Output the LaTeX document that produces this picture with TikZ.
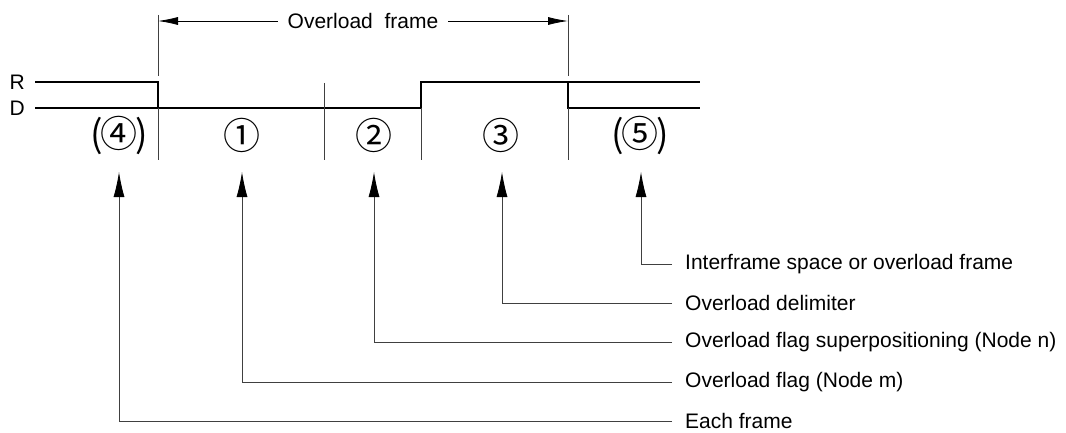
\documentclass[tikz,border=0pt]{standalone}
\usepackage{fontspec}
\setmainfont{Liberation Sans}
\newfontfamily\symfont{Noto Sans CJK SC}
\usetikzlibrary{arrows.meta}
\begin{document}
\begin{tikzpicture}[x=1pt,y=-1pt,
  sig/.style={line width=1.6pt,line cap=rect},
  thin/.style={line width=0.8pt,black!75},
  arr/.style={line width=0.8pt,black!75,-{Latex[length=25pt,width=11pt,black]}},
  dimarr/.style={line width=0.8pt,black,-{Latex[length=20pt,width=8pt]}},
  lbl/.style={anchor=west,inner sep=0pt,font=\fontsize{21}{25}\selectfont},
  num/.style={inner sep=0pt,font=\symfont\fontsize{37}{40}\selectfont}]
\useasboundingbox (0,0) rectangle (1066,433);
% signal levels
\node[anchor=east,inner sep=0pt,font=\fontsize{21}{25}\selectfont] (R) at (25,82) {R};
\node[anchor=east,inner sep=0pt,font=\fontsize{21}{25}\selectfont] (D) at (25,108) {D};
\draw[sig] (36,82) -- (158,82) -- (158,108) -- (421,108) -- (421,82) -- (568,82) -- (568,108) -- (699,108);
\draw[sig] (36,108) -- (158,108);
\draw[sig] (568,82) -- (699,82);
% separators
\draw[thin] (158,108) -- (158,160);
\draw[thin] (324,83) -- (324,160);
\draw[thin] (421,108) -- (421,160);
\draw[thin] (568,108) -- (568,160);
% dimension
\draw[thin] (158,15) -- (158,76);
\draw[thin] (568,15) -- (568,76);
\coordinate (dL) at (158,21);
\coordinate (dR) at (568,21);
\node[inner sep=0pt,inner xsep=10pt,font=\fontsize{21}{25}\selectfont] (of) at (363,21) {Overload\ \ frame};
\draw[dimarr] (of.west) -- (dL);
\draw[dimarr] (of.east) -- (dR);
% segment numbers
\node[num] (n4) at (119,135) {(\kern-2.5pt④\kern-2.5pt)};
\node[num] (n1) at (242,135) {①};
\node[num] (n2) at (374,135) {②};
\node[num] (n3) at (501,135) {③};
\node[num] (n5) at (640,135) {(\kern-2.5pt⑤\kern-2.5pt)};
% arrow tips
\coordinate (t4) at (119,172);
\coordinate (t1) at (242,172);
\coordinate (t2) at (374,172);
\coordinate (t3) at (502,172);
\coordinate (t5) at (641,172);
% labels
\node[lbl] (l5) at (685,264) {Interframe space or overload frame};
\node[lbl] (l3) at (685,303) {Overload delimiter};
\node[lbl] (l2) at (685,342) {Overload flag superpositioning (Node n)};
\node[lbl] (l1) at (685,382) {Overload flag (Node m)};
\node[lbl] (l4) at (685,421) {Each frame};
\draw[arr] ([xshift=-13pt]l5.west) -| (t5);
\draw[arr] ([xshift=-13pt]l3.west) -| (t3);
\draw[arr] ([xshift=-13pt]l2.west) -| (t2);
\draw[arr] ([xshift=-13pt]l1.west) -| (t1);
\draw[arr] ([xshift=-13pt]l4.west) -| (t4);
\end{tikzpicture}
\end{document}
